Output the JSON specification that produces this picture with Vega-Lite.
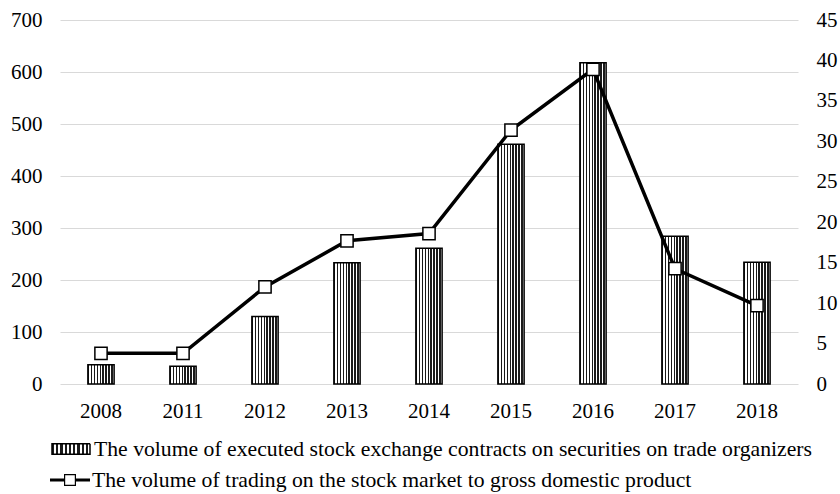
{
  "$schema": "https://vega.github.io/schema/vega-lite/v6.json",
  "width": 738,
  "height": 364,
  "autosize": {"type": "none"},
  "padding": {"left": 60, "top": 20, "right": 42, "bottom": 110},
  "background": "white",
  "data": {
    "values": [
      {"year": "2008", "contracts": 37, "ratio": 3.8},
      {"year": "2011", "contracts": 34, "ratio": 3.8},
      {"year": "2012", "contracts": 130, "ratio": 12.0},
      {"year": "2013", "contracts": 233, "ratio": 17.7},
      {"year": "2014", "contracts": 261, "ratio": 18.6},
      {"year": "2015", "contracts": 461, "ratio": 31.4},
      {"year": "2016", "contracts": 618, "ratio": 38.9},
      {"year": "2017", "contracts": 284, "ratio": 14.25},
      {"year": "2018", "contracts": 234, "ratio": 9.7}
    ]
  },
  "encoding": {
    "x": {
      "field": "year",
      "type": "ordinal",
      "scale": {"paddingInner": 0.68, "paddingOuter": 0.34},
      "axis": {
        "title": null,
        "labelAngle": 0,
        "domain": false,
        "ticks": false,
        "tickSize": 0,
        "labelPadding": 16,
        "labelFont": "Times New Roman, Liberation Serif, serif",
        "labelFontSize": 21,
        "labelColor": "#000000"
      }
    }
  },
  "layer": [
    {
      "mark": {
        "type": "bar",
        "stroke": "#000000",
        "strokeWidth": 1.5,
        "fill": {
          "gradient": "linear",
          "x1": 0, "x2": 1, "y1": 0, "y2": 0,
          "stops": [
            {"offset": 0, "color": "#1a1a1a"}, {"offset": 0.06, "color": "#1a1a1a"},
            {"offset": 0.06, "color": "#ffffff"}, {"offset": 0.111, "color": "#ffffff"},
            {"offset": 0.111, "color": "#1a1a1a"}, {"offset": 0.171, "color": "#1a1a1a"},
            {"offset": 0.171, "color": "#ffffff"}, {"offset": 0.222, "color": "#ffffff"},
            {"offset": 0.222, "color": "#1a1a1a"}, {"offset": 0.282, "color": "#1a1a1a"},
            {"offset": 0.282, "color": "#ffffff"}, {"offset": 0.333, "color": "#ffffff"},
            {"offset": 0.333, "color": "#1a1a1a"}, {"offset": 0.393, "color": "#1a1a1a"},
            {"offset": 0.393, "color": "#ffffff"}, {"offset": 0.444, "color": "#ffffff"},
            {"offset": 0.444, "color": "#1a1a1a"}, {"offset": 0.504, "color": "#1a1a1a"},
            {"offset": 0.504, "color": "#ffffff"}, {"offset": 0.555, "color": "#ffffff"},
            {"offset": 0.555, "color": "#1a1a1a"}, {"offset": 0.615, "color": "#1a1a1a"},
            {"offset": 0.615, "color": "#ffffff"}, {"offset": 0.666, "color": "#ffffff"},
            {"offset": 0.666, "color": "#1a1a1a"}, {"offset": 0.726, "color": "#1a1a1a"},
            {"offset": 0.726, "color": "#ffffff"}, {"offset": 0.777, "color": "#ffffff"},
            {"offset": 0.777, "color": "#1a1a1a"}, {"offset": 0.837, "color": "#1a1a1a"},
            {"offset": 0.837, "color": "#ffffff"}, {"offset": 0.888, "color": "#ffffff"},
            {"offset": 0.888, "color": "#1a1a1a"}, {"offset": 0.948, "color": "#1a1a1a"},
            {"offset": 0.948, "color": "#ffffff"}, {"offset": 1, "color": "#ffffff"}
          ]
        }
      },
      "encoding": {
        "y": {
          "field": "contracts",
          "type": "quantitative",
          "scale": {"domain": [0, 700], "nice": false},
          "axis": {
            "title": null,
            "values": [0, 100, 200, 300, 400, 500, 600, 700],
            "grid": true,
            "gridColor": "#d9d9d9",
            "gridWidth": 1.2,
            "domain": false,
            "ticks": false,
            "tickSize": 0,
            "labelPadding": 18,
            "labelFont": "Times New Roman, Liberation Serif, serif",
            "labelFontSize": 21,
            "labelColor": "#000000"
          }
        },
        "strokeDash": {
          "datum": "The volume of executed stock exchange contracts on securities on trade organizers",
          "type": "nominal",
          "scale": {"range": [[1, 0]]},
          "legend": {
            "title": null,
            "orient": "none",
            "legendX": -10,
            "legendY": 408,
            "padding": 0,
            "labelOffset": 2,
            "labelLimit": 1000,
            "labelFont": "Times New Roman, Liberation Serif, serif",
            "labelFontSize": 21.7,
            "labelColor": "#000000",
            "symbolType": "M-0.95,-0.26H0.95V0.26H-0.95Z",
            "symbolSize": 1600,
            "encode": {
              "symbols": {
                "update": {
                  "fill": {"value": "#6e6e6e"},
                  "stroke": {"value": "#000000"},
                  "strokeWidth": {"value": 1.5},
                  "strokeDash": {"value": [1, 0]}
                }
              }
            }
          }
        }
      }
    },
    {
      "encoding": {
        "y": {
          "field": "ratio",
          "type": "quantitative",
          "scale": {"domain": [0, 45], "nice": false},
          "axis": {
            "orient": "right",
            "title": null,
            "values": [0, 5, 10, 15, 20, 25, 30, 35, 40, 45],
            "grid": false,
            "domain": false,
            "ticks": false,
            "tickSize": 0,
            "labelPadding": 18,
            "labelFont": "Times New Roman, Liberation Serif, serif",
            "labelFontSize": 21,
            "labelColor": "#000000"
          }
        }
      },
      "layer": [
        {
          "mark": {"type": "line", "strokeWidth": 3.5},
          "encoding": {
            "color": {
              "datum": "The volume of trading on the stock market to gross domestic product",
              "type": "nominal",
              "scale": {"range": ["#000000"]},
              "legend": {
                "title": null,
                "orient": "none",
                "legendX": -10,
                "legendY": 440,
                "padding": 0,
                "labelOffset": 2,
                "labelLimit": 1000,
                "labelFont": "Times New Roman, Liberation Serif, serif",
                "labelFontSize": 21.7,
                "labelColor": "#000000",
                "symbolType": "M-1,-0.075H-0.3V0.075H-1Z M0.3,-0.075H1V0.075H0.3Z M-0.3,-0.3H0.3V0.3H-0.3Z M-0.24,-0.24V0.24H0.24V-0.24Z",
                "symbolSize": 1600,
                "encode": {
                  "symbols": {
                    "update": {
                      "fill": {"value": "#000000"},
                      "stroke": {"value": "transparent"},
                      "strokeWidth": {"value": 0}
                    }
                  }
                }
              }
            }
          }
        },
        {
          "mark": {
            "type": "point",
            "shape": "square",
            "size": 150,
            "filled": true,
            "fill": "#ffffff",
            "stroke": "#000000",
            "strokeWidth": 1.5,
            "opacity": 1
          }
        }
      ]
    }
  ],
  "resolve": {"scale": {"y": "independent", "strokeDash": "independent", "color": "independent"}},
  "config": {
    "view": {"stroke": null},
    "font": "Times New Roman, Liberation Serif, serif"
  }
}
